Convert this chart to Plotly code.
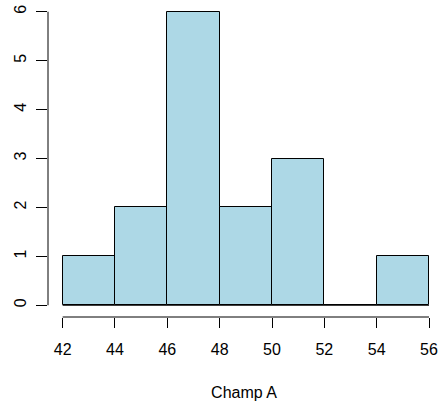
import plotly.graph_objects as go

# Histogram of "Champ A": bin edges and counts per bin
breaks = [42, 44, 46, 48, 50, 52, 54, 56]
counts = [1, 2, 6, 2, 3, 0, 1]
x_ticks = [42, 44, 46, 48, 50, 52, 54, 56]
y_ticks = [0, 1, 2, 3, 4, 5, 6]
x_label = "Champ A"

mids = [(a + b) / 2 for a, b in zip(breaks[:-1], breaks[1:])]
widths = [b - a for a, b in zip(breaks[:-1], breaks[1:])]

FONT = "Liberation Sans, Arial, Helvetica, sans-serif"
INK = "#000000"

fig = go.Figure()
fig.add_trace(go.Bar(
    x=mids, y=counts, width=widths,
    marker=dict(color="#ADD8E6", line=dict(color=INK, width=1)),
    hoverinfo="x+y",
))

# R-style axis extents: 4% padding around the data range
xr = breaks[-1] - breaks[0]
yr = max(y_ticks) - min(y_ticks)

fig.update_layout(
    width=440, height=405,
    margin=dict(l=48, r=0, t=0, b=88),
    paper_bgcolor="white", plot_bgcolor="white",
    showlegend=False,
    bargap=0,
    font=dict(family=FONT, size=16, color=INK),
    xaxis=dict(
        range=[breaks[0] - 0.04 * xr, 56.42],
        tickvals=x_ticks, ticktext=[str(v) for v in x_ticks],
        ticks="outside", ticklen=10, tickwidth=1, tickcolor=INK,
        showgrid=False, zeroline=False, showline=False,
        ticklabelstandoff=8,
        title=dict(text=x_label, standoff=29, font=dict(size=16)),
    ),
    yaxis=dict(
        range=[min(y_ticks) - 0.04 * yr, max(y_ticks) + 0.04 * yr],
        tickvals=y_ticks, ticktext=[str(v) for v in y_ticks],
        tickangle=-90,
        ticks="outside", ticklen=11, tickwidth=1, tickcolor=INK,
        showgrid=False, zeroline=False, showline=False,
        ticklabelstandoff=4,
    ),
)

# Axis lines spanning only the tick range, as in base R graphics
fig.add_shape(type="line", xref="x", yref="paper",
              x0=x_ticks[0], x1=x_ticks[-1], y0=0, y1=0,
              line=dict(color=INK, width=1))
fig.add_shape(type="line", xref="paper", yref="y",
              x0=0, x1=0, y0=y_ticks[0], y1=y_ticks[-1],
              line=dict(color=INK, width=1))
# Baseline segment under the empty bins
fig.add_shape(type="line", xref="x", yref="y",
              x0=breaks[0], x1=breaks[-1], y0=0, y1=0,
              line=dict(color=INK, width=1), layer="below")

fig.write_html("out.html")
